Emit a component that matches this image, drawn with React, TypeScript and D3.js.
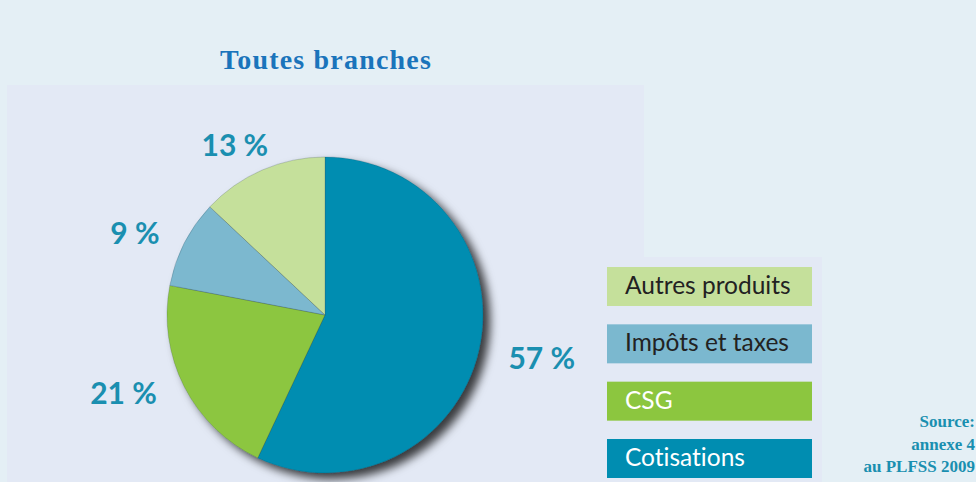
import React from "react";
import * as d3 from "d3";

const categories = ["Cotisations", "CSG", "Impôts et taxes", "Autres produits"];
const values = [57, 21, 9, 13];
const colors = ["#008db1", "#8cc63f", "#7bb8cf", "#c5e09b"];
const legendTextColors = ["#ffffff", "#ffffff", "#222222", "#222222"];
const title = "Toutes branches";
const sourceLines = ["Source:", "annexe 4", "au PLFSS 2009"];

const W = 976;
const H = 482;
const cx = 325;
const cy = 315;
const R = 158;
// label placement (layout only): radius and angular nudge in degrees
const labelRadii = [221, 216, 207, 192];
const labelAngleNudge = [-1.4, 5.9, -3.7, -4.6];

export default function App() {
  const pie = d3.pie<number>().sort(null).value((d) => d);
  const arcs = pie(values);
  const arcGen = d3.arc<d3.PieArcDatum<number>>().innerRadius(0).outerRadius(R);

  const legendOrder = [3, 2, 1, 0];
  const legendY = d3.scalePoint<number>().domain(legendOrder).range([267, 439]);

  return (
    <svg
      width={W}
      height={H}
      style={{ position: "absolute", left: 0, top: 0, display: "block" }}
    >
      <defs>
        <filter id="shadow" x="-20%" y="-20%" width="140%" height="140%">
          <feDropShadow dx="7" dy="6" stdDeviation="5" floodColor="#000" floodOpacity="0.75" />
        </filter>
      </defs>
      <rect x={0} y={0} width={W} height={H} fill="#e4eff5" />
      <rect x={7} y={85} width={637} height={H - 85} fill="#e3e9f5" />
      <rect x={644} y={257} width={178} height={H - 257} fill="#e3e9f5" />

      <text
        x={326}
        y={69}
        textAnchor="middle"
        fill="#1a74bb"
        style={{ fontFamily: "Liberation Serif, DejaVu Serif, serif", fontSize: 28, fontWeight: 700, letterSpacing: 1.2 }}
      >
        {title}
      </text>

      <g transform={`translate(${cx},${cy})`}>
        <g filter="url(#shadow)">
          {arcs.map((a, i) => (
            <path key={i} d={arcGen(a) || ""} fill={colors[i]} stroke="rgba(40,60,70,0.35)" strokeWidth={0.6} />
          ))}
        </g>
        {arcs.map((a, i) => {
          const mid = (a.startAngle + a.endAngle) / 2 + (labelAngleNudge[i] * Math.PI) / 180;
          const r = labelRadii[i];
          const x = r * Math.sin(mid);
          const y = -r * Math.cos(mid);
          return (
            <text
              key={i}
              x={x}
              y={y}
              dy="0.36em"
              textAnchor="middle"
              fill="#1a8fb0"
              style={{ fontFamily: "Lato, sans-serif", fontWeight: 700, fontSize: 30 }}
            >
              {`${values[i]} %`}
            </text>
          );
        })}
      </g>

      {legendOrder.map((i) => {
        const y = legendY(i) as number;
        return (
          <g key={i} transform={`translate(607,${y})`}>
            <rect width={205} height={39} fill={colors[i]} />
            <text
              x={18}
              y={27}
              fill={legendTextColors[i]}
              style={{ fontFamily: "Lato, sans-serif", fontSize: 24.5, fontVariantLigatures: "none" }}
            >
              {categories[i]}
            </text>
          </g>
        );
      })}

      {sourceLines.map((s, i) => (
        <text
          key={i}
          x={975}
          y={427 + i * 22.5}
          textAnchor="end"
          fill="#1a8fb0"
          style={{ fontFamily: "Liberation Serif, DejaVu Serif, serif", fontSize: 17, fontWeight: 700 }}
        >
          {s}
        </text>
      ))}
    </svg>
  );
}
